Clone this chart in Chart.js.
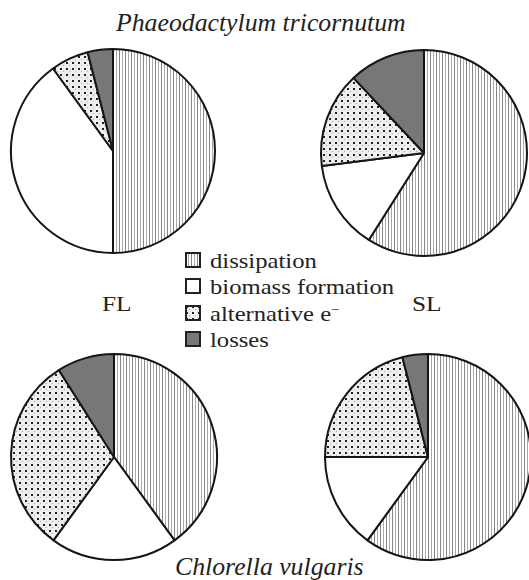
<!DOCTYPE html>
<html>
<head>
<meta charset="utf-8">
<script src="https://cdn.jsdelivr.net/npm/chart.js@4.4.0/dist/chart.umd.min.js"></script>
<style>
  html, body { margin:0; padding:0; background:#fff; width:529px; height:580px; overflow:hidden; }
  body { position:relative; font-family:"Liberation Serif","Times New Roman",serif; color:#222; }
  .pie { position:absolute; }
  .txt { position:absolute; white-space:nowrap; line-height:1; transform-origin:0 0; }
  .title { font-style:italic; font-size:25px; }
  .lab { font-size:22px; }
  .legrow { position:absolute; white-space:nowrap; font-size:22px; line-height:1; }
  .legrow canvas { position:absolute; left:0; }
  .legrow span { position:absolute; left:25px; transform-origin:0 0; transform:scaleX(1.12); }
  sup { font-size:0.6em; vertical-align:0.55em; }
</style>
</head>
<body>
<div class="txt title" style="left:116px; top:10px; transform:scaleX(1.03);">Phaeodactylum tricornutum</div>
<div class="txt title" style="left:175px; top:554px; transform:scaleX(1.03);">Chlorella vulgaris</div>
<div class="txt lab" style="left:102px; top:293px; transform:scaleX(1.15);">FL</div>
<div class="txt lab" style="left:412px; top:293px; transform:scaleX(1.15);">SL</div>
<div id="legend"></div>

<canvas id="c1" class="pie" width="240" height="240"></canvas>
<canvas id="c2" class="pie" width="240" height="240"></canvas>
<canvas id="c3" class="pie" width="240" height="240"></canvas>
<canvas id="c4" class="pie" width="240" height="240"></canvas>

<script>
// ---- data (percent of absorbed energy) ----
const categories = ['dissipation', 'biomass formation', 'alternative e\u2212', 'losses'];
const phaeodactylumFL = [50, 40, 6, 4];
const phaeodactylumSL = [59, 14, 15, 12];
const chlorellaFL = [40, 20, 31, 9];
const chlorellaSL = [60, 15, 21, 4];

// ---- fills ----
function makePattern(kind) {
  const c = document.createElement('canvas');
  const ctx = c.getContext('2d');
  if (kind === 'lines') {
    c.width = 6; c.height = 6;
    ctx.fillStyle = '#ffffff'; ctx.fillRect(0, 0, 6, 6);
    ctx.fillStyle = '#858585'; ctx.fillRect(0, 0, 1, 6);
    ctx.fillStyle = '#aaaaaa'; ctx.fillRect(3, 0, 1, 6);
  } else if (kind === 'dots') {
    c.width = 6; c.height = 6;
    ctx.fillStyle = '#eeeeee'; ctx.fillRect(0, 0, 6, 6);
    ctx.fillStyle = '#222222'; ctx.fillRect(1, 1, 2, 2);
    ctx.fillStyle = '#aaaaaa'; ctx.fillRect(4, 4, 1, 1);
  }
  return document.createElement('canvas').getContext('2d').createPattern(c, 'repeat');
}
const fills = [makePattern('lines'), '#ffffff', makePattern('dots'), '#777777'];

// ---- legend ----
const legend = document.getElementById('legend');
const legendBaselines = [268, 294.5, 321, 347];
categories.forEach((name, i) => {
  const row = document.createElement('div');
  row.className = 'legrow';
  row.style.left = '185px';
  row.style.top = (legendBaselines[i] - 18.4) + 'px';
  const sw = document.createElement('canvas');
  sw.width = 16; sw.height = 16;
  sw.style.top = '2px';
  const sctx = sw.getContext('2d');
  sctx.fillStyle = fills[i];
  sctx.fillRect(0, 0, 16, 16);
  sctx.strokeStyle = '#222';
  sctx.lineWidth = 2;
  sctx.strokeRect(1, 1, 14, 14);
  row.appendChild(sw);
  const sp = document.createElement('span');
  if (name.indexOf('e\u2212') >= 0) {
    sp.innerHTML = 'alternative e<sup>\u2212</sup>';
  } else {
    sp.textContent = name;
  }
  row.appendChild(sp);
  legend.appendChild(row);
});

// ---- pies ----
const pies = [
  { id: 'c1', data: phaeodactylumFL, cx: 113, cy: 151, r: 102 },
  { id: 'c2', data: phaeodactylumSL, cx: 424, cy: 153, r: 103 },
  { id: 'c3', data: chlorellaFL, cx: 114, cy: 457, r: 103 },
  { id: 'c4', data: chlorellaSL, cx: 428, cy: 457, r: 103 }
];
pies.forEach(p => {
  const el = document.getElementById(p.id);
  el.style.left = (p.cx - 120) + 'px';
  el.style.top = (p.cy - 120) + 'px';
  new Chart(el, {
    type: 'pie',
    data: {
      labels: categories,
      datasets: [{
        data: p.data,
        backgroundColor: fills,
        borderColor: '#151515',
        borderWidth: 2,
        radius: p.r
      }]
    },
    options: {
      responsive: false,
      animation: false,
      layout: { padding: 0 },
      plugins: { legend: { display: false }, tooltip: { enabled: false } }
    }
  });
});
</script>
</body>
</html>
